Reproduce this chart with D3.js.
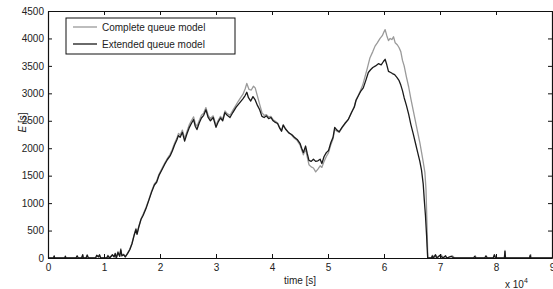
<!DOCTYPE html>
<html>
<head>
<meta charset="utf-8">
<script src="https://cdn.jsdelivr.net/npm/d3@7"></script>
<style>
  body { margin: 0; background: #fff; }
  svg { font-family: "Liberation Sans", Arial, sans-serif; }
  .tick text { font-size: 10px; fill: #222; }
</style>
</head>
<body>
<div id="chart"></div>
<script>
// ---- data (time in units of 10^4 s, E in s) ----
const xTicks = [0, 1, 2, 3, 4, 5, 6, 7, 8, 9];
const yTicks = [0, 500, 1000, 1500, 2000, 2500, 3000, 3500, 4000, 4500];
const seriesNames = ["Complete queue model", "Extended queue model"];

const extended = [
  [0,0],[0.1,0],[0.11,40],[0.12,0],[0.3,0],[0.31,30],[0.32,0],[0.5,0],[0.52,40],[0.54,0],
  [0.6,0],[0.62,60],[0.63,0],[0.68,0],[0.7,50],[0.72,0],[0.85,0],[0.87,50],[0.9,20],[0.92,60],
  [0.94,0],[1.05,0],[1.07,40],[1.1,0],[1.15,60],[1.18,20],[1.2,80],[1.22,0],[1.25,100],[1.28,30],
  [1.3,150],[1.32,40],[1.35,60],[1.38,20],[1.42,80],[1.46,150],[1.5,260],[1.54,420],[1.57,520],
  [1.59,430],[1.62,560],[1.66,700],[1.7,780],[1.75,900],[1.8,1050],[1.85,1200],[1.9,1330],
  [1.94,1380],[1.98,1500],[2.03,1600],[2.08,1700],[2.13,1790],[2.18,1860],[2.22,1950],[2.26,2060],
  [2.3,2150],[2.33,2230],[2.36,2200],[2.4,2290],[2.44,2130],[2.48,2260],[2.52,2370],[2.56,2450],
  [2.6,2520],[2.63,2400],[2.66,2340],[2.7,2460],[2.74,2550],[2.78,2600],[2.82,2700],[2.86,2560],
  [2.9,2500],[2.95,2560],[3.0,2380],[3.04,2480],[3.08,2550],[3.12,2500],[3.16,2650],[3.2,2600],
  [3.25,2560],[3.3,2650],[3.36,2750],[3.4,2800],[3.44,2850],[3.48,2900],[3.52,2960],[3.55,3020],
  [3.58,2920],[3.62,2860],[3.66,2940],[3.7,2880],[3.74,2780],[3.78,2700],[3.82,2580],[3.86,2560],
  [3.9,2590],[3.94,2540],[3.98,2560],[4.02,2500],[4.06,2470],[4.1,2450],[4.14,2360],[4.17,2310],
  [4.2,2420],[4.24,2350],[4.3,2280],[4.35,2250],[4.4,2200],[4.45,2160],[4.5,2090],[4.53,2000],
  [4.56,1920],[4.6,2040],[4.63,1900],[4.66,1780],[4.7,1760],[4.74,1800],[4.78,1760],[4.82,1770],
  [4.86,1800],[4.89,1720],[4.93,1850],[4.97,1920],[5.01,1960],[5.05,2100],[5.09,2200],[5.12,2380],
  [5.16,2330],[5.2,2300],[5.25,2380],[5.3,2450],[5.36,2520],[5.42,2650],[5.47,2750],[5.5,2870],
  [5.54,2950],[5.58,3030],[5.63,3100],[5.68,3250],[5.72,3380],[5.76,3430],[5.8,3470],[5.85,3500],
  [5.9,3540],[5.95,3520],[5.99,3580],[6.02,3620],[6.05,3520],[6.08,3400],[6.12,3380],[6.15,3360],
  [6.19,3340],[6.23,3290],[6.27,3230],[6.3,3150],[6.33,3050],[6.36,2920],[6.4,2780],[6.44,2620],
  [6.48,2430],[6.52,2270],[6.56,2100],[6.6,1930],[6.64,1760],[6.67,1600],[6.7,1350],[6.72,1050],
  [6.74,780],[6.76,420],[6.77,200],[6.78,0],[6.85,0],[6.86,40],[6.88,0],[6.92,60],[6.94,0],
  [7.0,50],[7.05,0],[7.1,40],[7.12,0],[7.2,30],[7.25,0],[7.6,0],[7.62,30],[7.64,0],[7.8,0],
  [7.82,40],[7.84,0],[7.95,0],[7.97,60],[7.99,0],[8.15,0],[8.16,120],[8.17,0],[8.6,0],[8.61,50],
  [8.62,0],[9,0]
];

const complete = [
  [0,0],[0.1,0],[0.11,30],[0.12,0],[0.3,0],[0.31,40],[0.32,0],[0.5,0],[0.52,30],[0.54,0],
  [0.6,0],[0.62,50],[0.63,0],[0.68,0],[0.7,60],[0.72,0],[0.85,0],[0.87,40],[0.9,20],[0.92,50],
  [0.94,0],[1.05,0],[1.07,50],[1.1,0],[1.15,50],[1.18,20],[1.2,90],[1.22,0],[1.25,120],[1.28,30],
  [1.3,170],[1.32,40],[1.35,70],[1.38,20],[1.42,90],[1.46,160],[1.5,270],[1.54,430],[1.57,540],
  [1.59,450],[1.62,570],[1.66,710],[1.7,800],[1.75,920],[1.8,1060],[1.85,1220],[1.9,1350],
  [1.94,1400],[1.98,1520],[2.03,1620],[2.08,1720],[2.13,1810],[2.18,1890],[2.22,1980],[2.26,2090],
  [2.3,2180],[2.33,2270],[2.36,2240],[2.4,2330],[2.44,2180],[2.48,2300],[2.52,2420],[2.56,2500],
  [2.6,2570],[2.63,2450],[2.66,2400],[2.7,2500],[2.74,2600],[2.78,2640],[2.82,2740],[2.86,2600],
  [2.9,2540],[2.95,2590],[3.0,2420],[3.04,2510],[3.08,2580],[3.12,2530],[3.16,2680],[3.2,2630],
  [3.25,2600],[3.3,2690],[3.36,2790],[3.4,2860],[3.44,2920],[3.48,2980],[3.52,3080],[3.55,3180],
  [3.59,3070],[3.63,3060],[3.67,3130],[3.7,3100],[3.74,2950],[3.78,2800],[3.82,2650],[3.86,2600],
  [3.9,2610],[3.94,2570],[3.98,2580],[4.02,2520],[4.06,2490],[4.1,2460],[4.14,2370],[4.17,2320],
  [4.2,2430],[4.24,2360],[4.3,2280],[4.35,2240],[4.4,2180],[4.45,2140],[4.5,2060],[4.53,1970],
  [4.56,1880],[4.6,1990],[4.63,1840],[4.66,1700],[4.7,1660],[4.74,1640],[4.78,1570],[4.82,1620],
  [4.86,1680],[4.89,1650],[4.93,1760],[4.97,1850],[5.01,1920],[5.05,2060],[5.09,2170],[5.12,2340],
  [5.16,2310],[5.2,2290],[5.25,2370],[5.3,2440],[5.36,2520],[5.42,2650],[5.47,2760],[5.5,2880],
  [5.54,2960],[5.58,3050],[5.62,3150],[5.66,3300],[5.7,3450],[5.75,3650],[5.8,3760],[5.84,3860],
  [5.88,3920],[5.93,4000],[5.97,4050],[6.0,4120],[6.02,4160],[6.05,4050],[6.08,3960],[6.11,4000],
  [6.14,3980],[6.17,4030],[6.2,3920],[6.24,3880],[6.27,3830],[6.3,3760],[6.33,3600],[6.36,3500],
  [6.4,3300],[6.44,3120],[6.48,2900],[6.52,2700],[6.56,2500],[6.6,2300],[6.64,2100],[6.67,1930],
  [6.7,1750],[6.73,1560],[6.75,1250],[6.76,900],[6.77,500],[6.78,100],[6.785,0],[6.85,0],
  [6.87,50],[6.89,0],[6.93,40],[6.95,0],[7.02,60],[7.06,0],[7.1,30],[7.12,0],[7.22,40],[7.26,0],
  [7.6,0],[7.63,40],[7.65,0],[7.8,0],[7.83,30],[7.85,0],[7.95,0],[7.98,50],[8.0,0],[8.15,0],
  [8.16,140],[8.17,0],[8.6,0],[8.62,60],[8.63,0],[9,0]
];

// ---- layout ----
const SVG_WIDTH = 553;
const SVG_HEIGHT = 289;
const MARGIN = {top: 11, right: 1, bottom: 31, left: 48};
const WIDTH = SVG_WIDTH - MARGIN.left - MARGIN.right;
const HEIGHT = SVG_HEIGHT - MARGIN.top - MARGIN.bottom;

const svg = d3.select("#chart").append("svg")
  .attr("width", SVG_WIDTH).attr("height", SVG_HEIGHT);
const g = svg.append("g").attr("transform", `translate(${MARGIN.left},${MARGIN.top})`);

const x = d3.scaleLinear().domain([0, 9]).range([0, WIDTH]);
const y = d3.scaleLinear().domain([0, 4500]).range([HEIGHT, 0]);

// lines
const line = d3.line().x(d => x(d[0])).y(d => y(d[1]));
g.append("path").datum(complete)
  .attr("d", line).attr("fill", "none")
  .attr("stroke", "#9a9a9a").attr("stroke-width", 1.3).attr("stroke-linejoin", "round");
g.append("path").datum(extended)
  .attr("d", line).attr("fill", "none")
  .attr("stroke", "#1a1a1a").attr("stroke-width", 1.3).attr("stroke-linejoin", "round");

// axes (matlab style: inward ticks on all sides)
const tk = 4;
g.append("g").attr("transform", `translate(0,${HEIGHT})`)
  .call(d3.axisBottom(x).tickValues(xTicks).tickFormat(d3.format("d")).tickSizeInner(-tk).tickSizeOuter(0).tickPadding(6));
g.append("g")
  .call(d3.axisLeft(y).tickValues(yTicks).tickFormat(d3.format("d")).tickSizeInner(-tk).tickSizeOuter(0).tickPadding(4));
g.append("g")
  .call(d3.axisTop(x).tickValues(xTicks).tickFormat("").tickSizeInner(-tk).tickSizeOuter(0));
g.append("g").attr("transform", `translate(${WIDTH},0)`)
  .call(d3.axisRight(y).tickValues(yTicks).tickFormat("").tickSizeInner(-tk).tickSizeOuter(0));
g.selectAll(".domain").attr("stroke", "#111").attr("stroke-width", 1.2);
g.selectAll(".tick line").attr("stroke", "#111");

// axis labels
g.append("text")
  .attr("x", x(4.5)).attr("y", HEIGHT + 26)
  .attr("text-anchor", "middle").attr("font-size", 10).attr("fill", "#222")
  .text("time [s]");
const mult = g.append("text")
  .attr("x", WIDTH - 47).attr("y", HEIGHT + 30)
  .attr("font-size", 10).attr("fill", "#222");
mult.append("tspan").text("x 10");
mult.append("tspan").attr("dy", -5).attr("font-size", 7).text("4");

const yl = g.append("text")
  .attr("transform", `translate(${-22},${y(2250) - 12}) rotate(-90)`)
  .attr("text-anchor", "middle").attr("font-size", 10).attr("fill", "#222");
yl.append("tspan").attr("font-style", "italic").text("E");
yl.append("tspan").text(" [s]");

// legend
const legend = g.append("g").attr("transform", `translate(${18},${7})`);
legend.append("rect")
  .attr("width", 169).attr("height", 36)
  .attr("fill", "#fff").attr("stroke", "#111").attr("stroke-width", 1);
const legColors = ["#9a9a9a", "#1a1a1a"];
seriesNames.forEach((name, i) => {
  const yy = 9 + i * 17;
  legend.append("line")
    .attr("x1", 7).attr("x2", 31).attr("y1", yy).attr("y2", yy)
    .attr("stroke", legColors[i]).attr("stroke-width", 1.3);
  legend.append("text")
    .attr("x", 36).attr("y", yy + 3.5)
    .attr("font-size", 10).attr("fill", "#222")
    .text(name);
});
</script>
</body>
</html>
